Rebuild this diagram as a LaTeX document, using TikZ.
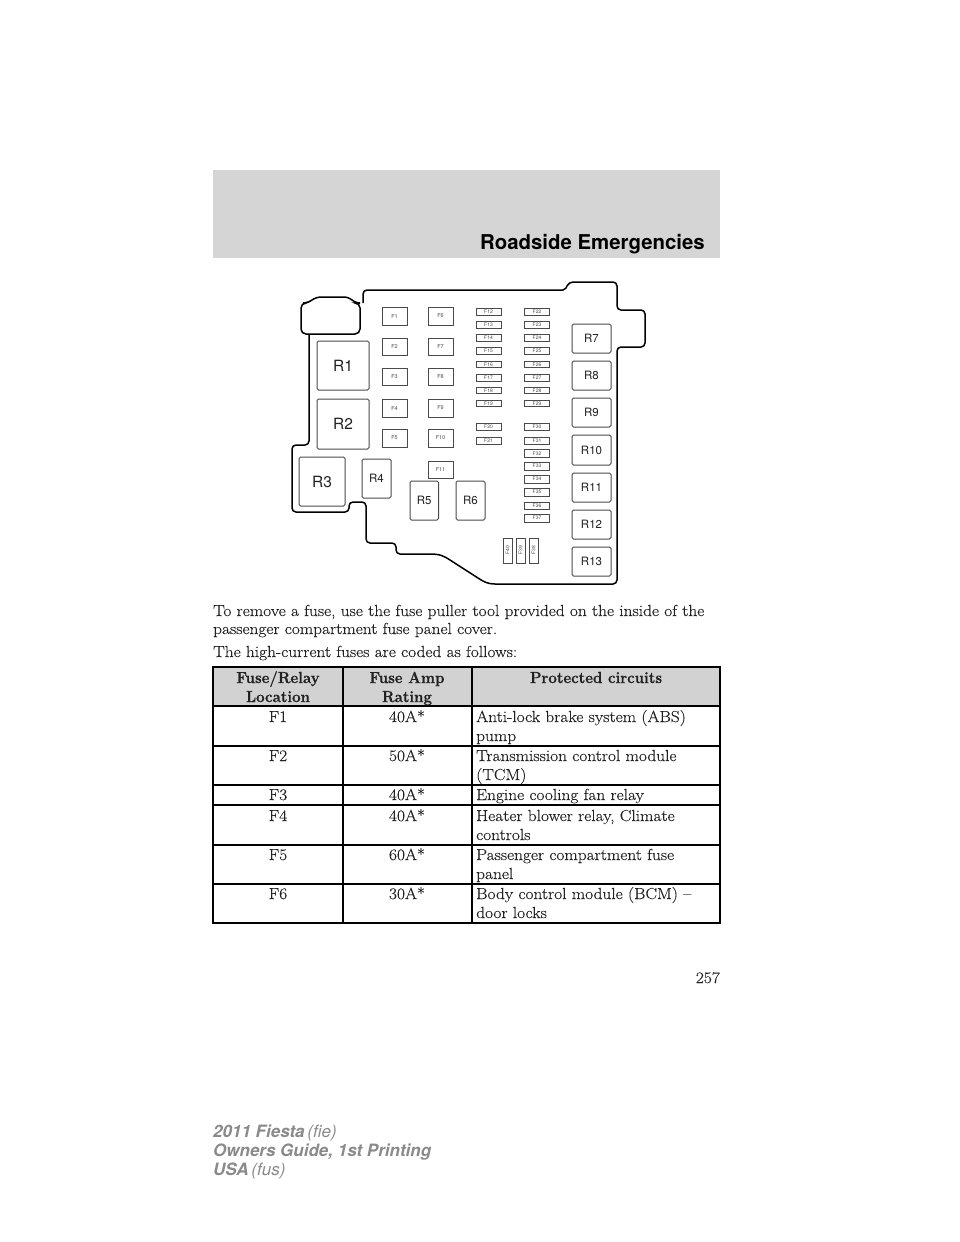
\documentclass[tikz,border=0pt]{standalone}
\usepackage{fontspec}
\setsansfont{TeX Gyre Heros}
\newfontfamily\bodyf[FakeStretch=1.085,FakeBold=0.2]{Latin Modern Roman}
\newfontfamily\bodyb[FakeStretch=0.94,FakeBold=0.8]{Latin Modern Roman}
\definecolor{band}{HTML}{D5D5D5}
\definecolor{headfill}{HTML}{D2D2D2}
\definecolor{boxline}{HTML}{4A4A4A}
\definecolor{foot}{HTML}{8A8A8A}
\definecolor{ink}{HTML}{222222}
\tikzset{
  outline/.style={draw=black,line width=1.5pt,rounded corners=4pt},
  part/.style={draw=boxline,line width=1pt,rounded corners=1.5pt,inner sep=0pt,outer sep=0pt,text=ink,font=\sffamily\fontsize{11.5}{12}\selectfont},
  bigrelay/.style={part,font=\sffamily\fontsize{15.5}{16}\selectfont},
  fuse/.style={draw=boxline,line width=1pt,inner sep=0pt,outer sep=0pt,text=boxline,font=\sffamily\fontsize{5.5}{6}\selectfont},
  para/.style={anchor=base west,inner sep=0pt,text=ink,font=\bodyf\fontsize{16}{18}\selectfont},
  hcell/.style={anchor=base,inner sep=0pt,text=ink,font=\bodyb\bfseries\fontsize{16}{18}\selectfont},
  cell/.style={anchor=base,inner sep=0pt,text=ink,font=\bodyf\fontsize{16}{18}\selectfont},
  lcell/.style={cell,anchor=base west},
  rule/.style={draw=black,line width=1.8pt},
  foottext/.style={anchor=base west,inner sep=0pt,text=foot,font=\sffamily\fontsize{17}{18}\selectfont}
}
\begin{document}
\begin{tikzpicture}[x=1pt,y=-1pt]
\useasboundingbox (0,0) rectangle (960,1242);
\fill[white] (0,0) rectangle (960,1242);
% header band
\fill[band] (213,170) rectangle (720,257.5);
\node[anchor=base east,inner sep=0pt,text=black,font=\sffamily\bfseries\fontsize{20.4}{22}\selectfont] (title) at (705,249.5) {Roadside Emergencies};
% housing
\draw[outline] (309,334) -- (309,445) -- (292,445) -- (292,512) -- (349,512) -- (349,502) -- (366,502) -- (366,543) -- (396,543) -- (396,554)
  [rounded corners=0pt] -- (430,554) .. controls (440,554) and (444,556) .. (450,560) -- (478,578) .. controls (484,582) and (488,584) .. (495,584)
  [rounded corners=4pt] -- (617,584) -- (617,347) -- (645,347) -- (645,310) -- (617,310) -- (617,282) -- (569,282)
  [rounded corners=2pt] -- (565,290) [rounded corners=4pt] -- (363,290) -- (363,303);
\draw[outline,rounded corners=5pt] (301,303) -- (308,303) -- (316,297) -- (349,297) -- (355,303) -- (360,303) -- (360,334) -- (301,334) -- cycle;
% relays
\foreach \n/\xa/\ya/\xb/\yb/\t in {r1/317/341/369/390/R1,r2/317/399/369/449/R2,r3/299/457/345/506/R3}
  \node[bigrelay,minimum width={(\xb-\xa)*1pt},minimum height={(\yb-\ya)*1pt}] (\n) at ({(\xa+\xb)/2},{(\ya+\yb)/2}) {\t};
\foreach \n/\xa/\ya/\xb/\yb/\t in {r4/362/459/391/498/R4,r5/410/481/438.5/520/R5,r6/456/481/485/520/R6,r7/572/324/611/353/R7,r8/572/361/611/390/R8,r9/572/398/611/427/R9,r10/572/435/611/465/R10,r11/572/473/611/502/R11,r12/572/510/611/539/R12,r13/572/547/611/576/R13}
  \node[part,minimum width={(\xb-\xa)*1pt},minimum height={(\yb-\ya)*1pt}] (\n) at ({(\xa+\xb)/2},{(\ya+\yb)/2}) {\t};
% large fuses
\foreach \n/\ya/\yb in {1/307/325,2/338/355,3/368/385,4/399/417,5/429/447}
  \node[fuse,minimum width=25pt,minimum height={(\yb-\ya)*1pt}] (f\n) at (394.5,{(\ya+\yb)/2}) {F\n};
\foreach \n/\ya/\yb in {6/307/325,7/338/355,8/368/385,9/399/417,10/429/447,11/461/478}
  \node[fuse,minimum width=25pt,minimum height={(\yb-\ya)*1pt}] (f\n) at (440.5,{(\ya+\yb)/2}) {F\n};
% small fuses
\foreach \n/\ya/\yb in {12/308/315,13/321/328,14/334/341,15/347/354,16/361/367.5,17/374/381,18/387/393.5,19/400/406.5,20/423/430,21/437/444}
  \node[fuse,minimum width=25pt,minimum height={(\yb-\ya)*1pt},font=\sffamily\fontsize{5}{5}\selectfont] (f\n) at (488.5,{(\ya+\yb)/2}) {F\n};
\foreach \n/\ya/\yb in {22/308/315,23/321/328,24/334/341,25/347/354,26/361/367.5,27/374/381,28/387/393.5,29/400/406.5,30/423/430,31/437/444,32/449.5/457,33/462/470,34/475/483,35/488/496,36/502/509,37/514/522}
  \node[fuse,minimum width=25.5pt,minimum height={(\yb-\ya)*1pt},font=\sffamily\fontsize{5}{5}\selectfont] (f\n) at (537,{(\ya+\yb)/2}) {F\n};
\foreach \n/\xa in {40/503,39/516,38/529}
  \node[fuse,minimum width=25pt,minimum height=9pt,rotate=90,font=\sffamily\fontsize{5}{5}\selectfont] (f\n) at ({\xa+4.5},550.5) {F\n};
% paragraph text
\node[para] (p1) at (213,616) {To remove a fuse, use the fuse puller tool provided on the inside of the};
\node[para] (p2) at (213,634) {passenger compartment fuse panel cover.};
\node[para] (p3) at (213,657) {The high-current fuses are coded as follows:};
% table
\fill[headfill] (213,667) rectangle (720,706);
\draw[rule] (213,667) rectangle (720,923);
\draw[rule] (343,667) -- (343,923);
\draw[rule] (472,667) -- (472,923);
\foreach \y in {706,746,785,805,845,884}
  \draw[rule] (213,\y) -- (720,\y);
\node[hcell] (h1a) at (278,683) {Fuse/Relay};
\node[hcell] (h1b) at (278,702) {Location};
\node[hcell] (h2a) at (407,683) {Fuse Amp};
\node[hcell] (h2b) at (407,702) {Rating};
\node[hcell] (h3) at (596,683) {Protected circuits};
\foreach \n/\y/\a/\b in {1/722/F1/40A*,2/761/F2/50A*,3/800/F3/40A*,4/821/F4/40A*,5/860/F5/60A*,6/899/F6/30A*}{
  \node[cell] (c\n a) at (278,\y) {\a};
  \node[cell] (c\n b) at (407,\y) {\b};
}
\node[lcell] (d1a) at (476,722) {Anti-lock brake system (ABS)};
\node[lcell] (d1b) at (476,741) {pump};
\node[lcell] (d2a) at (476,761) {Transmission control module};
\node[lcell] (d2b) at (476,780) {(TCM)};
\node[lcell] (d3a) at (476,800) {Engine cooling fan relay};
\node[lcell] (d4a) at (476,821) {Heater blower relay, Climate};
\node[lcell] (d4b) at (476,840) {controls};
\node[lcell] (d5a) at (476,860) {Passenger compartment fuse};
\node[lcell] (d5b) at (476,879) {panel};
\node[lcell] (d6a) at (476,899) {Body control module (BCM) –};
\node[lcell] (d6b) at (476,918) {door locks};
% page number
\node[anchor=base east,inner sep=0pt,text=ink,font=\bodyf\fontsize{16}{18}\selectfont] (pg) at (720,983) {257};
% footer
\node[foottext] (ft1) at (213,1137.5) {\bfseries\itshape 2011 Fiesta\,\mdseries(fie)};
\node[foottext] (ft2) at (213,1156.5) {\bfseries\itshape Owners Guide, 1st Printing};
\node[foottext] (ft3) at (213,1175) {\bfseries\itshape USA\,\mdseries(fus)};
\end{tikzpicture}
\end{document}
